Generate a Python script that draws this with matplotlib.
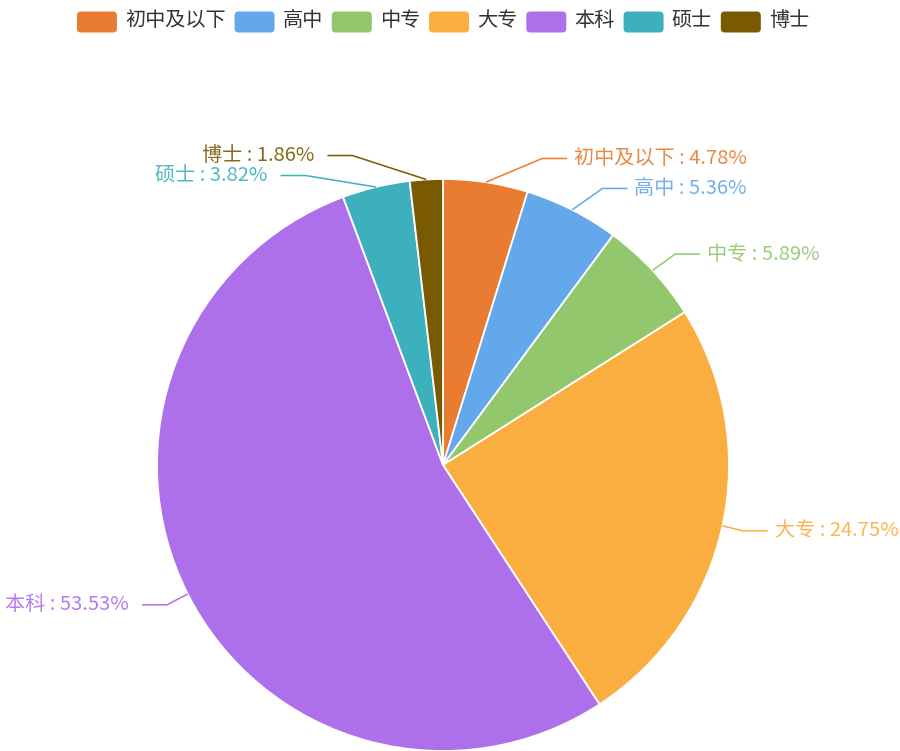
import numpy as np
import matplotlib.pyplot as plt
from matplotlib.patches import FancyBboxPatch

plt.rcParams['font.family'] = ['Noto Sans CJK SC', 'DejaVu Sans']

# data
categories = ['初中及以下', '高中', '中专', '大专', '本科', '硕士', '博士']
shares = [4.78, 5.36, 5.89, 24.75, 53.53, 3.82, 1.86]
colors = ['#E97C30', '#62A8EA', '#92C76E', '#FBAE40', '#AE6FEB', '#3DB0BE', '#7A5A00']

W, H = 900, 751
cx, cy, r = 443, 465, 286

fig = plt.figure(figsize=(W / 100, H / 100), dpi=100)
ax = fig.add_axes([0, 0, 1, 1])

# y axis points down (pixel like), so startangle -90 is the top and ccw draws clockwise
ax.pie(shares, colors=colors, center=(cx, cy), radius=r, startangle=-90,
       counterclock=True, frame=True,
       wedgeprops=dict(edgecolor='white', linewidth=1.3))
ax.set_xlim(0, W)
ax.set_ylim(H, 0)
ax.axis('off')

# label lines, echarts style
cum = np.cumsum([0] + shares) / sum(shares) * 360
mids = (cum[:-1] + cum[1:]) / 2
labels = []
for i, m in enumerate(mids):
    t = np.radians(m)
    sx, sy = np.sin(t), -np.cos(t)
    labels.append({'i': i, 'sx': sx, 'sy': sy,
                   'side': 1 if sx >= 0 else -1,
                   'y': cy + (r + 24) * sy})

for side in (1, -1):
    items = sorted([l for l in labels if l['side'] == side], key=lambda l: l['y'])
    for a, b in zip(items, items[1:]):
        if b['y'] - a['y'] < 20:
            b['y'] = a['y'] + 20

for l in labels:
    i, side, y = l['i'], l['side'], l['y']
    dy = y - cy
    ex = cx + side * (r + 20) * np.sqrt(max(0.0, 1 - (dy / (r + 38)) ** 2))
    x0, y0 = cx + r * l['sx'], cy + r * l['sy']
    x3 = ex + side * 25
    ax.plot([x0, ex, x3], [y0, y, y], color=colors[i], lw=1.1, solid_capstyle='butt')
    gap = 7 if side > 0 else 13
    ax.text(x3 + side * gap, y, f'{categories[i]} : {shares[i]:.2f}%',
            ha='left' if side > 0 else 'right', va='center',
            fontsize=14.5, color=colors[i], alpha=0.9)

# legend at top
fig.canvas.draw()
renderer = fig.canvas.get_renderer()
sw_w, sw_h, pad1, pad2 = 40, 21, 8, 9
texts = []
widths = []
for c in categories:
    t = ax.text(0, 21, c, fontsize=14.5, color='#333333', va='center', ha='left')
    bb = t.get_window_extent(renderer)
    widths.append(bb.width)
    texts.append(t)
total = sum(sw_w + pad1 + w for w in widths) + pad2 * (len(widths) - 1)
x = cx - total / 2
for c, col, t, w in zip(categories, colors, texts, widths):
    ax.add_patch(FancyBboxPatch((x, 22 - sw_h / 2), sw_w, sw_h,
                                boxstyle='round,pad=0,rounding_size=4',
                                facecolor=col, edgecolor='none'))
    t.set_x(x + sw_w + pad1)
    x += sw_w + pad1 + w + pad2

fig.savefig('out.png', dpi=100, facecolor='white')
